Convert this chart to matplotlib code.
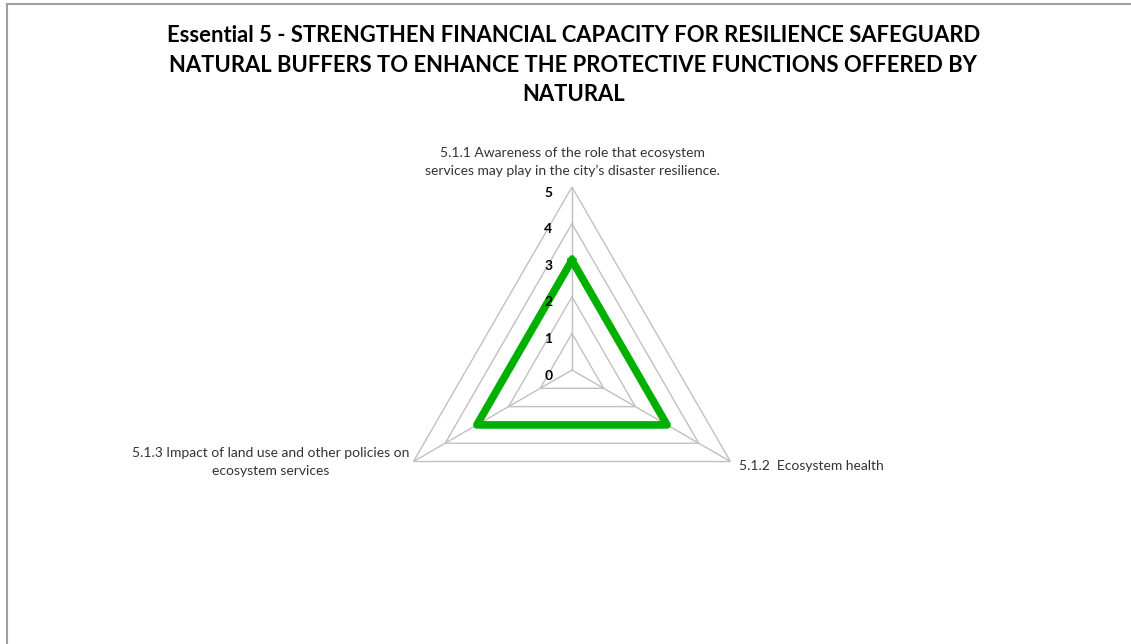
import numpy as np
import matplotlib.pyplot as plt

plt.rcParams['font.family'] = ['Lato', 'DejaVu Sans']

title = ("Essential 5 - STRENGTHEN FINANCIAL CAPACITY FOR RESILIENCE SAFEGUARD\n"
         "NATURAL BUFFERS TO ENHANCE THE PROTECTIVE FUNCTIONS OFFERED BY\n"
         "NATURAL")
categories = ["5.1.1 Awareness of the role that ecosystem\nservices may play in the city\u2019s disaster resilience.",
              "5.1.2  Ecosystem health",
              "5.1.3 Impact of land use and other policies on\necosystem services"]
values = [3, 3, 3]
levels = [0, 1, 2, 3, 4, 5]

fig = plt.figure(figsize=(11.31, 6.44), dpi=100)

# outer frame (only top/left visible in the original)
fig.add_artist(plt.Line2D([7 / 1131, 7 / 1131], [0, 1 - 4 / 644], color="#a0a0a0", lw=1.5))
fig.add_artist(plt.Line2D([7 / 1131, 1], [1 - 4 / 644, 1 - 4 / 644], color="#a0a0a0", lw=1.5))

fig.text(0.507, 0.961, title, ha="center", va="top", fontsize=15.8,
         fontweight="bold", linespacing=1.5)

ax = fig.add_axes([0.3439, 0.1413, 0.3236, 0.5683], projection="polar")
ax.set_theta_offset(np.pi / 2)
ax.set_theta_direction(-1)
ax.set_ylim(0, 5)
ax.axis("off")

n = len(categories)
angles = np.arange(n) * 2 * np.pi / n
closed = np.append(angles, angles[0])

for lv in levels[1:]:
    ax.plot(closed, [lv] * (n + 1), color="#c0c0c0", lw=1)
for a in angles:
    ax.plot([a, a], [0, 5], color="#c0c0c0", lw=1)

ax.plot(closed, values + values[:1], color="#00b000", lw=5.5,
        solid_joinstyle="round")

for lv in levels:
    ax.annotate(str(lv), xy=(0, lv), xytext=(-14, -4), textcoords="offset points",
                ha="right", va="center", fontsize=10, fontweight="bold")

ax.annotate(categories[0], xy=(0, 5), xytext=(0, 7), textcoords="offset points",
            ha="center", va="bottom", fontsize=10, color="#333333", linespacing=1.6)
ax.annotate(categories[1], xy=(angles[1], 5), xytext=(6, -3), textcoords="offset points",
            ha="left", va="center", fontsize=10, color="#333333")
ax.annotate(categories[2], xy=(angles[2], 5), xytext=(-3, 0), textcoords="offset points",
            ha="right", va="center", fontsize=10, color="#333333", multialignment="center",
            linespacing=1.6)

fig.savefig("out.png", dpi=100)
